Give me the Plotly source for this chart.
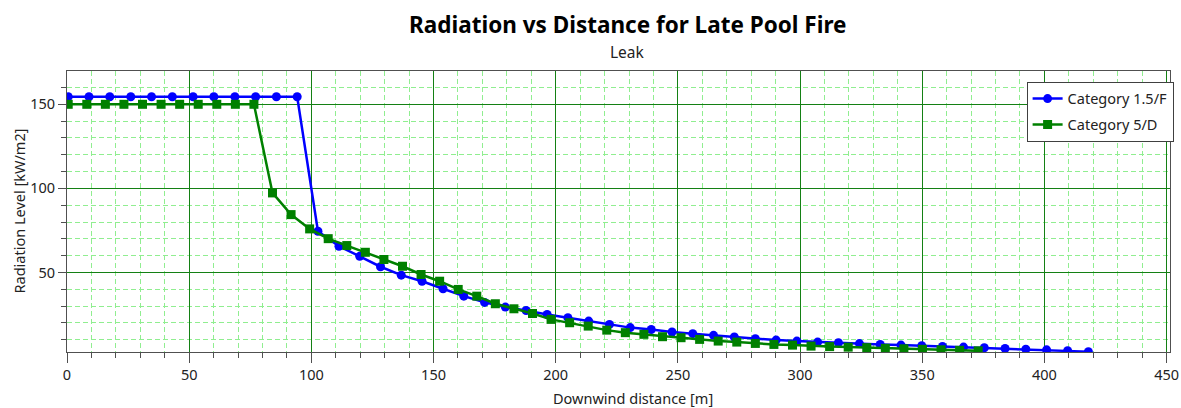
import plotly.graph_objects as go

# ---- data ----
blue_name = "Category 1.5/F"
blue_x = [0.5, 9.0, 17.5, 26.1, 34.6, 43.1, 51.6, 60.1, 68.7, 77.2, 85.7, 94.2,
          102.7, 111.3, 119.8, 128.3, 136.8, 145.3, 153.9, 162.4, 170.9, 179.4,
          187.9, 196.5, 205.0, 213.5, 222.0, 230.5, 239.1, 247.6, 256.1, 264.6,
          273.1, 281.7, 290.2, 298.7, 307.2, 315.7, 324.3, 332.8, 341.3, 349.8,
          358.3, 366.9, 375.4, 383.9, 392.4, 400.9, 409.5, 418.0]
blue_y = [154.5, 154.5, 154.5, 154.5, 154.5, 154.5, 154.5, 154.5, 154.5, 154.5, 154.5, 154.5,
          74.5, 65.6, 59.6, 53.4, 48.4, 44.8, 40.3, 35.9, 32.2, 29.4,
          27.4, 25.0, 23.1, 21.1, 19.1, 17.2, 16.1, 14.6, 13.6, 12.6,
          11.6, 10.6, 9.8, 9.2, 8.6, 8.2, 7.7, 7.2, 6.8, 6.4,
          6.0, 5.6, 5.2, 4.8, 4.4, 4.0, 3.5, 2.9]

green_name = "Category 5/D"
green_x = [0.5, 8.1, 15.7, 23.3, 30.9, 38.5, 46.1, 53.7, 61.3, 68.9, 76.5, 84.1,
           91.7, 99.3, 106.9, 114.5, 122.1, 129.7, 137.3, 144.9, 152.5, 160.1,
           167.7, 175.3, 182.9, 190.5, 198.1, 205.7, 213.3, 220.9, 228.5, 236.1,
           243.7, 251.3, 258.9, 266.5, 274.1, 281.7, 289.3, 296.9, 304.5, 312.1,
           319.7, 327.3, 334.9, 342.5, 350.1, 357.7, 365.3, 372.9]
green_y = [150, 150, 150, 150, 150, 150, 150, 150, 150, 150, 150, 97.3,
           84.4, 75.9, 70.1, 66.0, 62.0, 57.7, 53.7, 48.8, 44.8, 39.9,
           35.9, 31.4, 28.4, 25.6, 22.1, 20.1, 18.1, 15.7, 14.2, 13.2,
           11.8, 11.2, 10.2, 9.2, 8.6, 7.8, 7.2, 6.8, 6.2, 5.9,
           5.6, 5.3, 4.9, 4.6, 4.3, 4.0, 3.7, 3.4]

title_text = "Radiation vs Distance for Late Pool Fire"
subtitle_text = "Leak"
x_title = "Downwind distance [m]"
y_title = "Radiation Level [kW/m2]"

FONT = "Noto Sans, Open Sans, DejaVu Sans, sans-serif"
MAJOR = "rgb(20,128,20)"
MINOR = "#90EE90"
AXIS = "#505050"

fig = go.Figure()
fig.add_trace(go.Scatter(x=blue_x, y=blue_y, name=blue_name, mode="lines+markers",
                         legendgroup="a",
                         line=dict(color="#0000FF", width=2.5),
                         marker=dict(symbol="circle", size=9, color="#0000FF")))
fig.add_trace(go.Scatter(x=green_x, y=green_y, name=green_name, mode="lines+markers",
                         legendgroup="b",
                         line=dict(color="#008000", width=2.5),
                         marker=dict(symbol="square", size=9, color="#008000")))

axis_common = dict(
    showline=True, linecolor=AXIS, linewidth=1, mirror=True,
    showgrid=True, gridcolor=MAJOR, gridwidth=1,
    zeroline=False, ticks="outside", tickcolor=AXIS, automargin=False,
    tickfont=dict(family=FONT, size=14.5, color="#222222"),
)

fig.update_xaxes(range=[0, 451.4], dtick=50, tick0=0, ticklen=10,
                 minor=dict(dtick=10, tick0=0, ticks="outside", ticklen=5, tickcolor=AXIS,
                            showgrid=True, gridcolor=MINOR, griddash="5px,3px", gridwidth=1),
                 **axis_common)
fig.update_yaxes(range=[2.7, 169.8], dtick=50, tick0=0, ticklen=8,
                 minor=dict(dtick=10, tick0=0, ticks="outside", ticklen=5, tickcolor=AXIS,
                            showgrid=True, gridcolor=MINOR, griddash="5px,3px", gridwidth=1),
                 **axis_common)

annotations = [
    dict(text="<b>" + title_text + "</b>", x=0.5086, y=1.167, xref="paper", yref="paper",
         xanchor="center", yanchor="middle", showarrow=False,
         font=dict(family=FONT, size=22.5, color="#000000")),
    dict(text=subtitle_text, x=0.5086, y=1.0676, xref="paper", yref="paper",
         xanchor="center", yanchor="middle", showarrow=False,
         font=dict(family=FONT, size=15.5, color="#222222")),
    dict(text=x_title, x=0.513, y=-0.1625, xref="paper", yref="paper",
         xanchor="center", yanchor="middle", showarrow=False,
         font=dict(family=FONT, size=14.5, color="#222222")),
    dict(text=y_title, x=-0.0444, y=0.5, xref="paper", yref="paper", textangle=-90,
         xanchor="center", yanchor="middle", showarrow=False,
         font=dict(family=FONT, size=14.5, color="#222222")),
]

fig.update_layout(
    width=1181, height=408, autosize=False,
    margin=dict(l=67, r=11, t=71, b=56, autoexpand=False),
    paper_bgcolor="white", plot_bgcolor="white",
    showlegend=True,
    legend=dict(x=0.870, y=0.962, xanchor="left", yanchor="top",
                bgcolor="white", bordercolor="#404040", borderwidth=1,
                font=dict(family=FONT, size=14.5, color="#222222"),
                tracegroupgap=4, itemwidth=30),
    annotations=annotations,
)

post = ("document.body.style.margin='0px';"
        "document.body.style.overflow='hidden';"
        "var gd=document.getElementById('{plot_id}');"
        "Plotly.relayout(gd,{width:1181,height:408});")

fig.write_html("out.html", config={"displayModeBar": False, "responsive": False},
               post_script=post)
